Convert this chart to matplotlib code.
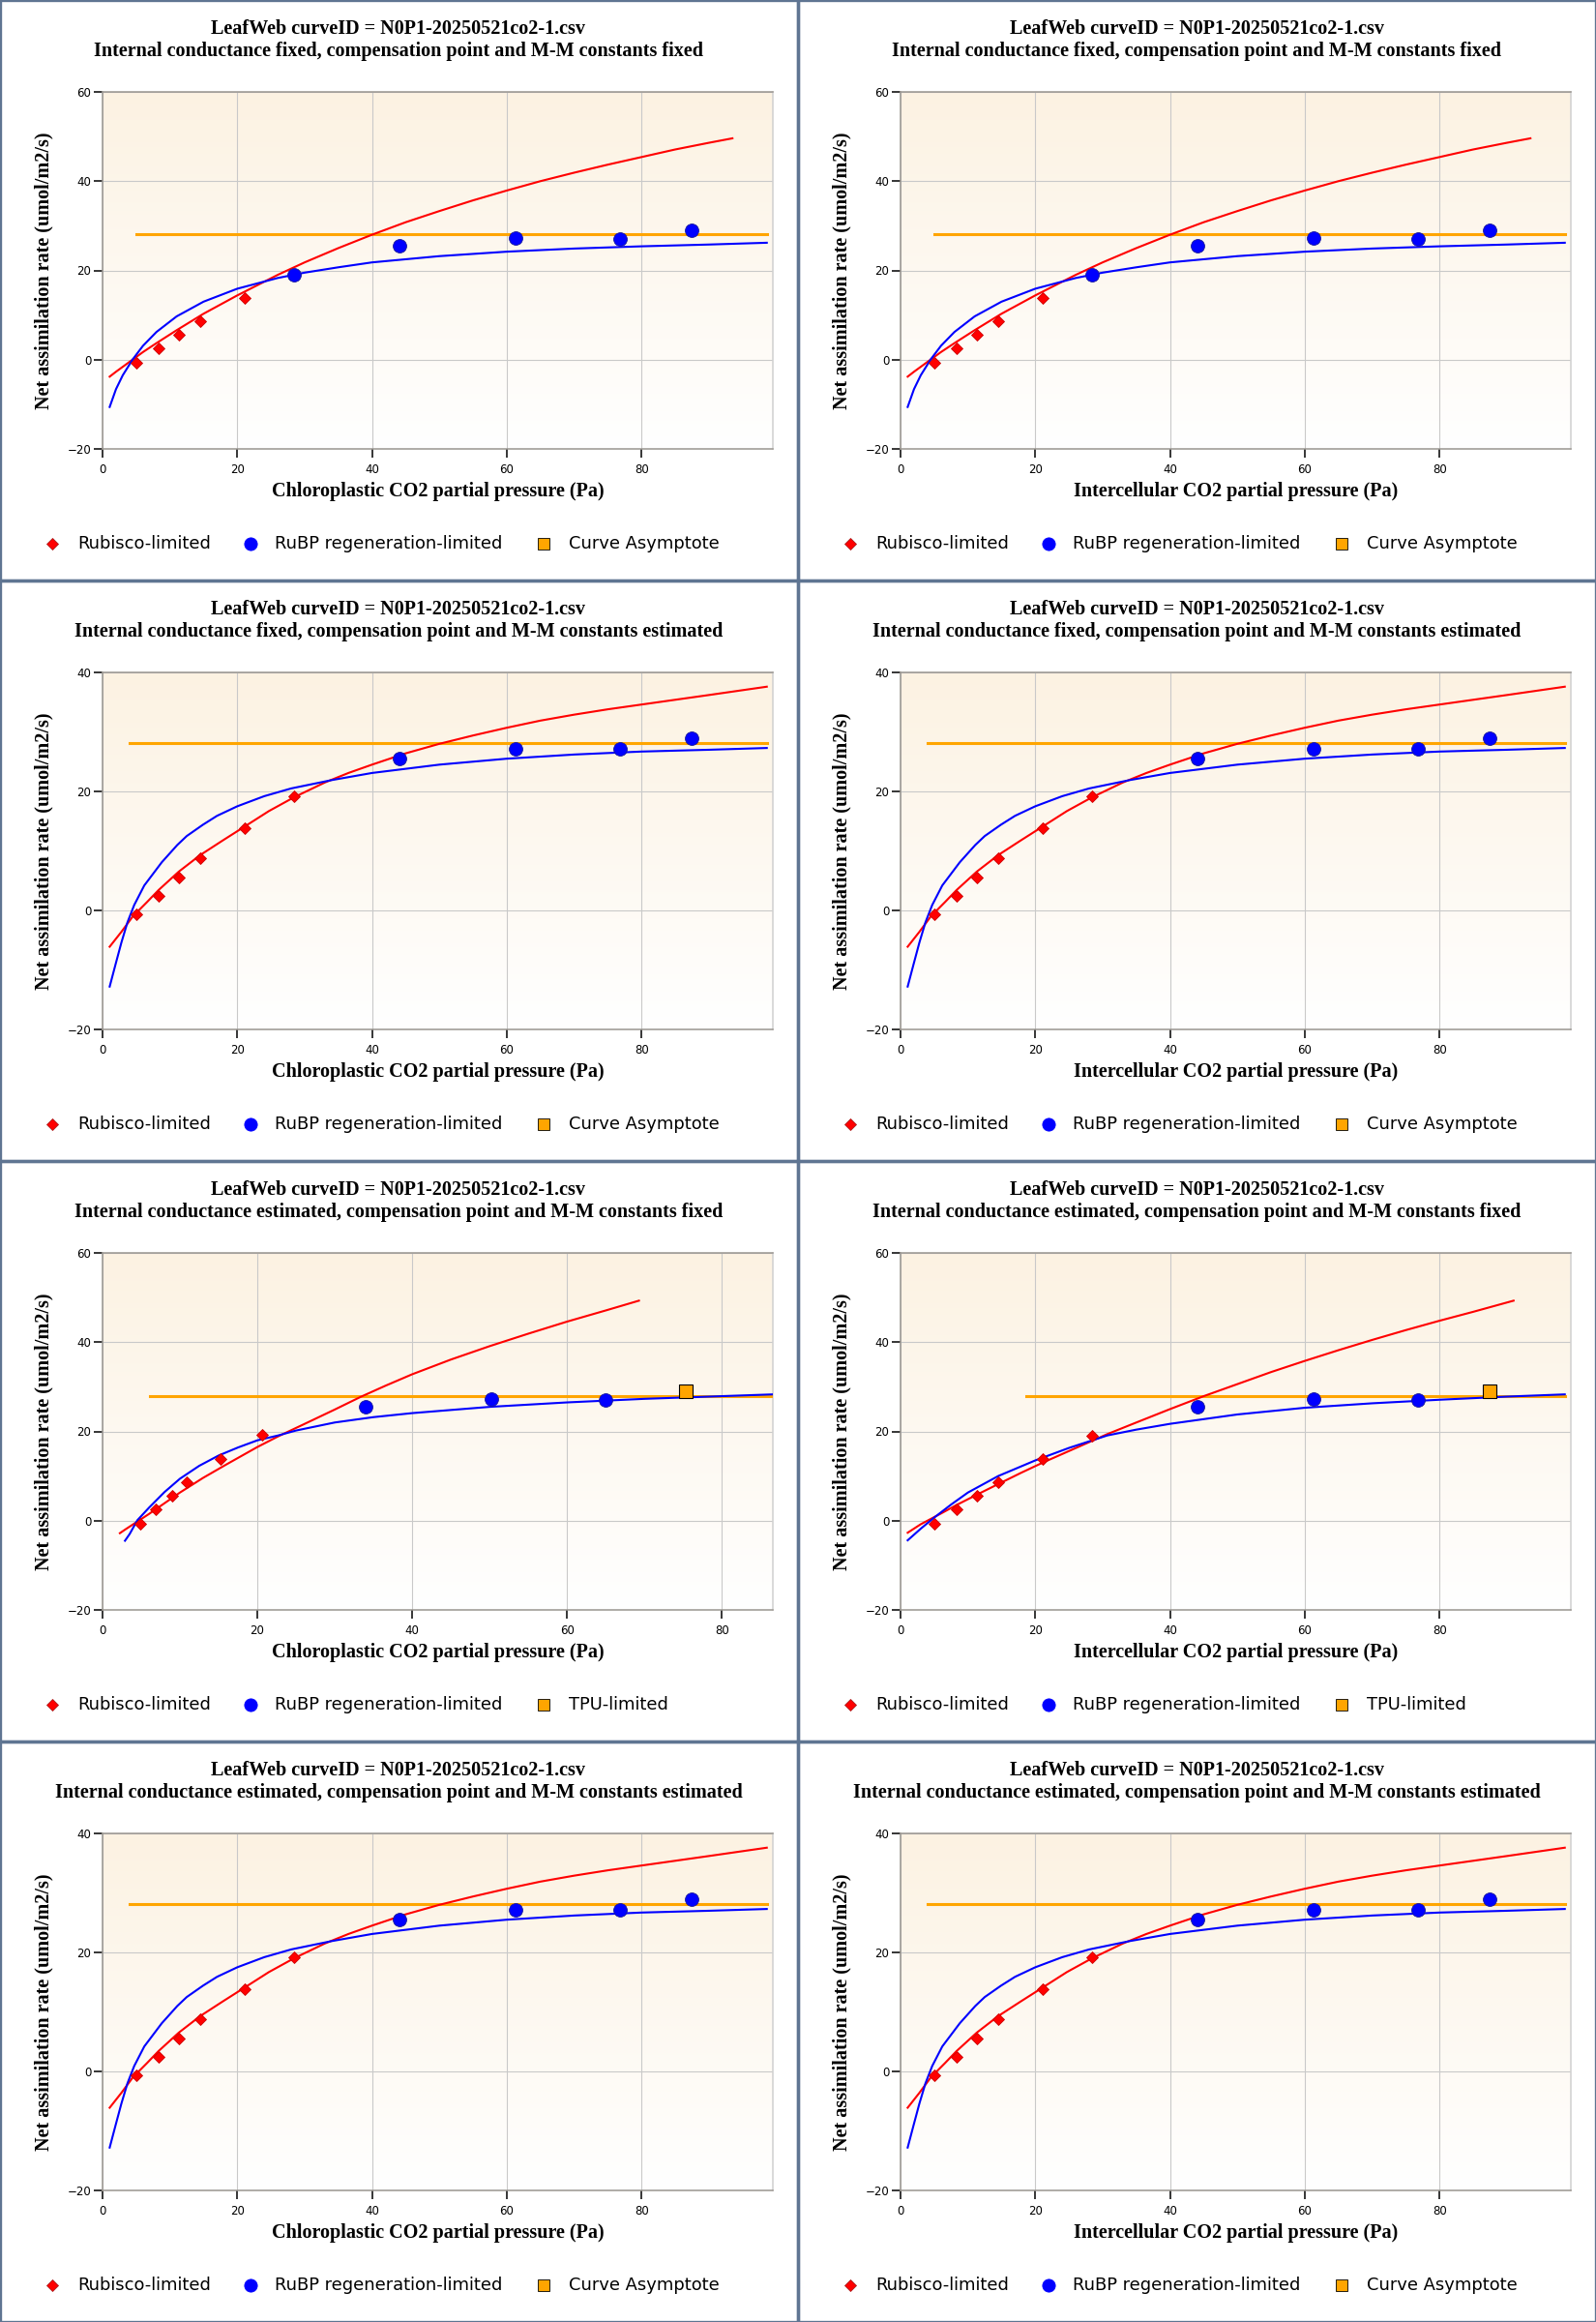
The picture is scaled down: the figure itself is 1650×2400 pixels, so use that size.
import numpy as np
import matplotlib.pyplot as plt
from matplotlib.lines import Line2D
from matplotlib.patches import Rectangle

# ---- data (8 panels, 4 fit types) ----

curve_id = 'LeafWeb curveID = N0P1-20250521co2-1.csv'

# fit A: conductance fixed, constants fixed (panels 1 and 2)
a_rub_x = [5.06, 8.3, 11.3, 14.5, 21.1]
a_rub_y = [-0.7, 2.5, 5.5, 8.7, 13.9]
a_rubp_x = [28.4, 44.1, 61.3, 76.8, 87.4]
a_rubp_y = [19.1, 25.6, 27.2, 27.1, 28.9]
a_asym = [5.06, 98.6, 28.1]          # x start, x end, level
a_red_x = [1.06, 2, 3, 4.45, 6, 8, 11, 15, 20, 26, 30, 35, 40, 45, 50, 55, 60, 65, 70, 75, 80, 85, 90, 93.5]
a_red_y = [-3.8, -2.7, -1.6, 0.0, 1.7, 3.7, 6.6, 10.3, 14.4, 19.0, 21.8, 25.0, 28.0, 30.8, 33.3, 35.7,
           37.9, 40.0, 41.9, 43.7, 45.4, 47.1, 48.6, 49.6]
a_blue_x = [1.06, 2, 3, 4.45, 6, 8, 11, 15, 20, 26, 30, 35, 40, 50, 60, 70, 80, 90, 98.6]
a_blue_y = [-10.6, -6.6, -3.5, 0.0, 3.1, 6.2, 9.7, 13.0, 15.9, 18.3, 19.5, 20.7, 21.8, 23.2, 24.2, 24.9, 25.4, 25.8, 26.2]

# fit B: conductance fixed/estimated, constants estimated (panels 3, 4, 7, 8)
b_rub_x = [5.06, 8.3, 11.3, 14.5, 21.1, 28.4]
b_rub_y = [-0.7, 2.5, 5.5, 8.7, 13.9, 19.2]
b_rubp_x = [44.1, 61.3, 76.8, 87.4]
b_rubp_y = [25.6, 27.2, 27.1, 28.9]
b_asym = [4.0, 98.6, 28.1]
b_red_x = [1.06, 2.8, 4.5, 6.6, 8.3, 11.3, 14.5, 17.9, 21.1, 24.7, 28.4, 33, 36.5, 40, 45, 50, 55,
           60, 65, 70, 75, 80, 85, 90, 98.6]
b_red_y = [-6.1, -3.6, -1.0, 1.4, 3.4, 6.5, 9.3, 11.8, 14.1, 16.7, 19.0, 21.5, 23.1, 24.5, 26.4, 28.0, 29.4,
           30.7, 31.9, 32.9, 33.8, 34.6, 35.4, 36.2, 37.6]
b_blue_x = [1.06, 1.9, 2.8, 3.7, 4.7, 6.2, 8.8, 11.1, 12.5, 14.9, 17, 20, 24, 28, 34, 40, 50, 60, 70, 80, 90, 98.6]
b_blue_y = [-12.8, -9.2, -5.4, -2.0, 0.9, 4.2, 8.1, 11.0, 12.5, 14.4, 15.9, 17.5, 19.2, 20.5, 21.9, 23.1,
            24.5, 25.5, 26.2, 26.7, 27.0, 27.3]

# fit C: conductance estimated, constants fixed, chloroplastic (panel 5)
c_rub_x = [4.93, 6.9, 8.94, 10.9, 15.3, 20.6]
c_rub_y = [-0.7, 2.5, 5.5, 8.7, 13.9, 19.3]
c_rubp_x = [34.0, 50.2, 65.0]
c_rubp_y = [25.6, 27.2, 27.1]
c_tpu_x = [75.4]
c_tpu_y = [29.1]
c_asym = [6.1, 86.3, 27.9]
c_red_x = [2.24, 3, 4.5, 6, 8, 10, 13, 16, 20, 22.7, 26, 30, 33.3, 36.5, 40, 45, 50, 55, 60, 65, 69.3]
c_red_y = [-2.8, -1.9, -0.2, 1.5, 3.9, 6.3, 9.6, 12.6, 16.5, 18.9, 21.6, 24.9, 27.7, 30.2, 32.8, 36.1,
           39.1, 41.9, 44.6, 47.1, 49.3]
c_blue_x = [2.9, 3.5, 4.5, 6, 8, 10, 12.5, 15, 17.5, 20, 22.7, 25, 30, 35, 40, 50, 60, 70, 80, 86.6]
c_blue_y = [-4.5, -3.0, 0.1, 2.9, 6.4, 9.4, 12.3, 14.6, 16.4, 18.0, 19.1, 20.2, 22.0, 23.2, 24.1, 25.5, 26.5, 27.3, 27.9, 28.3]

# fit D: conductance estimated, constants fixed, intercellular (panel 6)
d_rub_x = [5.06, 8.3, 11.3, 14.5, 21.1, 28.4]
d_rub_y = [-0.7, 2.5, 5.5, 8.7, 13.9, 19.1]
d_rubp_x = [44.1, 61.3, 76.8]
d_rubp_y = [25.6, 27.2, 27.1]
d_tpu_x = [87.4]
d_tpu_y = [29.1]
d_asym = [18.6, 98.6, 27.9]
d_red_x = [1.06, 3, 4.5, 6, 8.3, 11.3, 14.5, 18, 21.1, 25, 30.7, 35, 40, 45, 50, 55, 60, 65, 70, 75, 80, 85, 91.0]
d_red_y = [-2.7, -0.8, 0.4, 1.6, 3.5, 5.8, 8.2, 10.8, 13.0, 15.6, 19.4, 22.0, 25.0, 27.9, 30.6, 33.3,
           35.8, 38.2, 40.5, 42.7, 44.8, 46.8, 49.3]
d_blue_x = [1.06, 3, 5, 7.5, 10, 14.5, 20, 25, 30.7, 35, 40, 50, 60, 70, 80, 90, 98.6]
d_blue_y = [-4.4, -1.8, 0.7, 3.6, 6.3, 10.0, 13.5, 16.3, 19.1, 20.4, 21.7, 23.8, 25.3, 26.3, 27.1, 27.8, 28.3]

fits = {
    'A': dict(rub=(a_rub_x, a_rub_y), rubp=(a_rubp_x, a_rubp_y), tpu=None, asym=a_asym,
              red=(a_red_x, a_red_y), blue=(a_blue_x, a_blue_y), xmax=99.5, ylim=(-20, 60)),
    'B': dict(rub=(b_rub_x, b_rub_y), rubp=(b_rubp_x, b_rubp_y), tpu=None, asym=b_asym,
              red=(b_red_x, b_red_y), blue=(b_blue_x, b_blue_y), xmax=99.5, ylim=(-20, 40)),
    'C': dict(rub=(c_rub_x, c_rub_y), rubp=(c_rubp_x, c_rubp_y), tpu=(c_tpu_x, c_tpu_y), asym=c_asym,
              red=(c_red_x, c_red_y), blue=(c_blue_x, c_blue_y), xmax=86.6, ylim=(-20, 60)),
    'D': dict(rub=(d_rub_x, d_rub_y), rubp=(d_rubp_x, d_rubp_y), tpu=(d_tpu_x, d_tpu_y), asym=d_asym,
              red=(d_red_x, d_red_y), blue=(d_blue_x, d_blue_y), xmax=99.5, ylim=(-20, 60)),
}

sub_ff = 'Internal conductance fixed, compensation point and M-M constants fixed'
sub_fe = 'Internal conductance fixed, compensation point and M-M constants estimated'
sub_ef = 'Internal conductance estimated, compensation point and M-M constants fixed'
sub_ee = 'Internal conductance estimated, compensation point and M-M constants estimated'
xl_c = 'Chloroplastic CO2 partial pressure (Pa)'
xl_i = 'Intercellular CO2 partial pressure (Pa)'
ylab = 'Net assimilation rate (umol/m2/s)'

# (subtitle, x label, fit) row by row
panels = [
    (sub_ff, xl_c, 'A'), (sub_ff, xl_i, 'A'),
    (sub_fe, xl_c, 'B'), (sub_fe, xl_i, 'B'),
    (sub_ef, xl_c, 'C'), (sub_ef, xl_i, 'D'),
    (sub_ee, xl_c, 'B'), (sub_ee, xl_i, 'B'),
]

# ---- layout ----
W, H = 1650, 2400
PW, PH = 825, 600
fig = plt.figure(figsize=(16.5, 24), dpi=100)
fig.patch.set_facecolor('white')

serif = 'Liberation Serif'
sans = 'DejaVu Sans'
tsize = 14.5

def fx(px):
    return px / W

def fy(py):
    return 1 - py / H

top_c = np.array([252, 242, 226]) / 255.
bot_c = np.array([255, 255, 255]) / 255.
t = np.linspace(0, 1, 256).reshape(-1, 1, 1)
grad = top_c * (1 - t) + bot_c * t

for i, (sub, xl, key) in enumerate(panels):
    f = fits[key]
    r, c = divmod(i, 2)
    ox, oy = c * PW, r * PH

    ax = fig.add_axes([fx(ox + 106), fy(oy + 464), 693 / W, 369 / H])
    ax.imshow(grad, extent=[0, 1, 0, 1], transform=ax.transAxes, aspect='auto', zorder=0)
    ax.set_axisbelow(True)
    ax.grid(True, color='#c9c9c9', lw=0.8)

    x0, x1, lev = f['asym']
    ax.plot([x0, x1], [lev, lev], color='#ffa500', lw=2.2, zorder=3)
    ax.plot(*f['red'], color='#ff0000', lw=1.5, zorder=4)
    ax.plot(*f['blue'], color='#0000ff', lw=1.5, zorder=4)
    ax.plot(*f['rub'], 'D', color='#ff0000', ms=6, mec='#cc0000', mew=0.6, zorder=5)
    ax.plot(*f['rubp'], 'o', color='#0000ff', ms=10, mec='#1a1a99', mew=0.6, zorder=5)
    if f['tpu'] is not None:
        ax.plot(*f['tpu'], 's', color='#ffa500', ms=10, mec='black', mew=0.8, zorder=5)

    ax.set_xlim(0, f['xmax'])
    ax.set_ylim(*f['ylim'])
    ax.set_xticks([0, 20, 40, 60, 80])
    ax.set_yticks(np.arange(f['ylim'][0], f['ylim'][1] + 1, 20))
    ax.tick_params(length=6.5, width=1.1, color='black', pad=2, labelsize=8.5)
    for lab in ax.get_xticklabels() + ax.get_yticklabels():
        lab.set_fontfamily(sans)
    ax.tick_params(axis='x', pad=4)
    for s in ['left', 'top', 'bottom']:
        ax.spines[s].set_color('#9a9690')
        ax.spines[s].set_linewidth(1.1)
    ax.spines['right'].set_color('#d0d0d0')
    ax.spines['right'].set_linewidth(1.1)

    # titles and axis labels
    fig.text(fx(ox + 412), fy(oy + 30), curve_id, ha='center', va='center',
             family=serif, weight='bold', fontsize=tsize)
    fig.text(fx(ox + 412), fy(oy + 53), sub, ha='center', va='center',
             family=serif, weight='bold', fontsize=tsize)
    fig.text(fx(ox + 452.5), fy(oy + 508), xl, ha='center', va='center',
             family=serif, weight='bold', fontsize=tsize)
    fig.text(fx(ox + 45), fy(oy + 280), ylab, ha='center', va='center', rotation=90,
             family=serif, weight='bold', fontsize=tsize)

    # legend row
    third = 'TPU-limited' if f['tpu'] is not None else 'Curve Asymptote'
    items = [(54, 80, 'D', '#ff0000', '#aa2222', 6.5, 'Rubisco-limited'),
             (259, 284, 'o', '#0000ff', '#0000ff', 9.5, 'RuBP regeneration-limited'),
             (562, 588, 's', '#ffa500', 'black', 9.0, third)]
    ly = fy(oy + 562)
    for mx, tx, mk, fc, ec, ms, txt in items:
        fig.add_artist(Line2D([fx(ox + mx)], [ly], transform=fig.transFigure, marker=mk,
                              ls='none', color=fc, mec=ec, mew=0.6, ms=ms))
        fig.text(fx(ox + tx), ly, txt, ha='left', va='center', family=sans, fontsize=12.9)

    # panel border
    fig.add_artist(Rectangle((fx(ox), fy(oy + PH)), PW / W, PH / H, transform=fig.transFigure,
                             fill=False, edgecolor='#5f7592', lw=2.4))

fig.savefig('out.png', dpi=100, facecolor='white')
